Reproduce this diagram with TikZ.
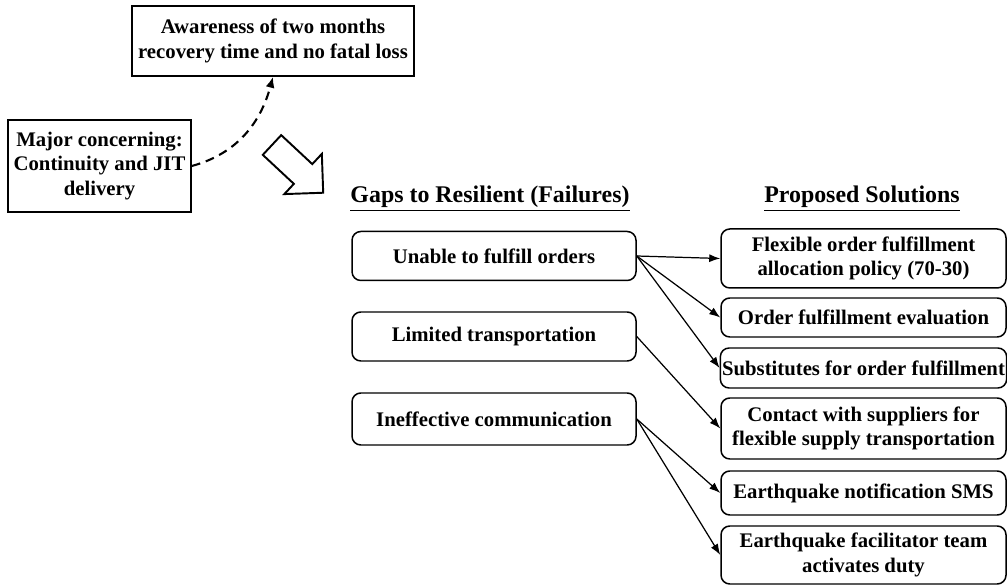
\documentclass[tikz,border=0pt]{standalone}
\usepackage{fontspec}
\setmainfont{Liberation Serif}
\usetikzlibrary{arrows.meta}
\begin{document}
\begin{tikzpicture}[font=\bfseries\fontsize{11.8}{14}\selectfont,
  bx/.style={draw,line width=0.85pt,align=center,inner sep=1pt},
  gap/.style={bx,rounded corners=5pt,minimum width=5.68cm,minimum height=0.98cm},
  sol/.style={bx,rounded corners=5pt,minimum width=5.7cm},
  hd/.style={font=\bfseries\fontsize{13.6}{16}\selectfont},
  lnk/.style={line width=0.7pt,-{Latex[length=0.22cm,width=0.16cm]}}]
  \useasboundingbox (0,0) rectangle (20.14,-11.7);
  \node[bx,minimum width=5.64cm,minimum height=1.4cm] (aware) at (5.46,-0.82){Awareness of two months\\recovery time and no fatal loss};
  \node[bx,minimum width=3.66cm,minimum height=1.84cm] (concern) at (1.99,-3.32){Major concerning:\\Continuity and JIT\\delivery};
  \draw[line width=1.2pt,dash pattern=on 5pt off 3.4pt,-{Latex[length=0.22cm,width=0.18cm]}] (concern.east) to[out=15,in=-105] (aware.south);
  \draw[line width=1.1pt,shift={(5.44,-2.9)},rotate=-43] (0,0.27) -- (0.85,0.27) -- (0.85,0.55) -- (1.4,0) -- (0.85,-0.55) -- (0.85,-0.27) -- (0,-0.27) -- cycle;
  \node[hd] (gapshd) at (9.8,-3.98){\underline{Gaps to Resilient (Failures)}};
  \node[hd] (solhd) at (17.24,-3.98){\underline{Proposed Solutions}};
  \node[gap] (unable) at (9.88,-5.12){Unable to fulfill orders};
  \node[gap] (limited) at (9.88,-6.73){Limited transportation};
  \node[gap,minimum height=1.04cm] (ineff) at (9.88,-8.38){Ineffective communication};
  \node[sol,minimum height=1.18cm] (flex) at (17.27,-5.17){Flexible order fulfillment\\allocation policy (70-30)};
  \node[sol,minimum height=0.78cm] (eval) at (17.27,-6.35){Order fulfillment evaluation};
  \node[sol,minimum height=0.8cm] (subst) at (17.27,-7.36){Substitutes for order fulfillment};
  \node[sol,minimum height=1.22cm] (contact) at (17.27,-8.57){Contact with suppliers for\\flexible supply transportation};
  \node[sol,minimum height=0.88cm] (sms) at (17.27,-9.86){Earthquake notification SMS};
  \node[sol,minimum height=1.16cm] (facil) at (17.27,-11.1){Earthquake facilitator team\\activates duty};
  \draw[lnk] (unable.east) -- (flex.west);
  \draw[lnk] (unable.east) -- (eval.west);
  \draw[lnk] (unable.east) -- (subst.west);
  \draw[lnk] (limited.east) -- (contact.west);
  \draw[lnk] (ineff.east) -- (sms.west);
  \draw[lnk] (ineff.east) -- (facil.west);
\end{tikzpicture}
\end{document}
